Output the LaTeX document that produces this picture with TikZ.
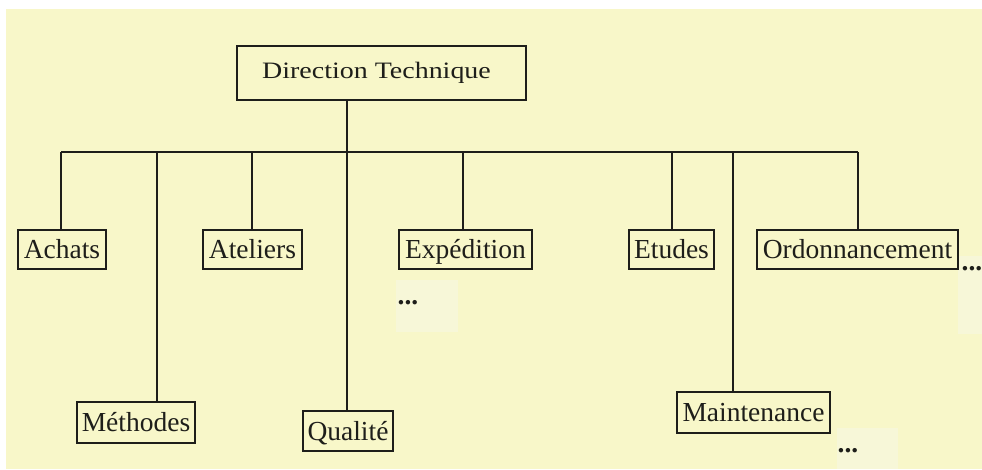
\documentclass[tikz,border=0pt]{standalone}
\usepackage{fontspec}
\usepackage{graphicx}
\setmainfont{Liberation Serif}
\definecolor{paper}{HTML}{F8F7C9}
\definecolor{paperlight}{HTML}{F7F7D8}
\definecolor{ink}{HTML}{1E1E1A}
\tikzset{
  unit/.style={draw=ink, line width=1.8pt, inner sep=0pt, text=ink,
    font=\fontsize{27.5}{30}\selectfont,
    text height=19.8pt, text depth=1.1pt},
  head/.style={draw=ink, line width=1.8pt, inner sep=0pt, text=ink,
    font=\fontsize{23.5}{26}\selectfont,
    text height=16.4pt, text depth=5.6pt},
  link/.style={draw=ink, line width=1.8pt},
  more/.style={inner sep=0pt, anchor=base west, text=ink,
    font=\fontsize{27.5}{30}\selectfont\bfseries}
}
\begin{document}
\begin{tikzpicture}[x=1pt, y=-1pt]
  % sheet and its coloured area
  \fill[white] (0,0) rectangle (982,470);
  \useasboundingbox (0,0) rectangle (982,470);
  \fill[paper] (6,9) rectangle (982,469);
  \fill[paperlight] (396,280) rectangle (458,332);
  \fill[paperlight] (837,428) rectangle (898,469);
  \fill[paperlight] (958,256) rectangle (982,334);

  % head of the department
  \node[head, minimum width=289, minimum height=54] (dt) at (381.5,73)
    {\scalebox{1.19}[1]{Direction Technique}\kern10pt};

  % first row of services
  \node[unit, minimum width=88,  minimum height=39] (achats)     at (62,249.5)    {Achats};
  \node[unit, minimum width=99,  minimum height=39] (ateliers)   at (252.5,249.5) {Ateliers};
  \node[unit, minimum width=133, minimum height=39] (expedition) at (465.5,249.5) {Expédition};
  \node[unit, minimum width=85,  minimum height=39] (etudes)     at (671.5,249.5) {Etudes};
  \node[unit, minimum width=201, minimum height=39] (ordo)       at (857.5,249.5) {Ordonnancement};

  % second row of services
  \node[unit, minimum width=118, minimum height=41] (methodes)    at (136,422.5)   {Méthodes};
  \node[unit, minimum width=90,  minimum height=40] (qualite)     at (348,431)     {Qualité};
  \node[unit, minimum width=153, minimum height=41] (maintenance) at (753.5,412.5) {Maintenance};

  % continuation marks
  \node[more] (more-exp)  at (397.5,304) {...};
  \node[more] (more-main) at (837.5,452) {...};
  \node[more] (more-ordo) at (961.5,271) {...};

  % taps on the distribution bar
  \coordinate (t-achats)   at (61,152);
  \coordinate (t-methodes) at (157,152);
  \coordinate (t-ateliers) at (252,152);
  \coordinate (t-qualite)  at (347,152);
  \coordinate (t-exp)      at (463,152);
  \coordinate (t-etudes)   at (672,152);
  \coordinate (t-main)     at (733,152);
  \coordinate (t-ordo)     at (858,152);

  % connectors
  \draw[link] (t-qualite |- dt.south) -- (t-qualite);
  \draw[link] (t-achats) -- (t-ordo);
  \draw[link] (t-achats)   -- (t-achats |- achats.north);
  \draw[link] (t-methodes) -- (t-methodes |- methodes.north);
  \draw[link] (t-ateliers) -- (t-ateliers |- ateliers.north);
  \draw[link] (t-qualite)  -- (t-qualite |- qualite.north);
  \draw[link] (t-exp)      -- (t-exp |- expedition.north);
  \draw[link] (t-etudes)   -- (t-etudes |- etudes.north);
  \draw[link] (t-main)     -- (t-main |- maintenance.north);
  \draw[link] (t-ordo)     -- (t-ordo |- ordo.north);
\end{tikzpicture}
\end{document}
